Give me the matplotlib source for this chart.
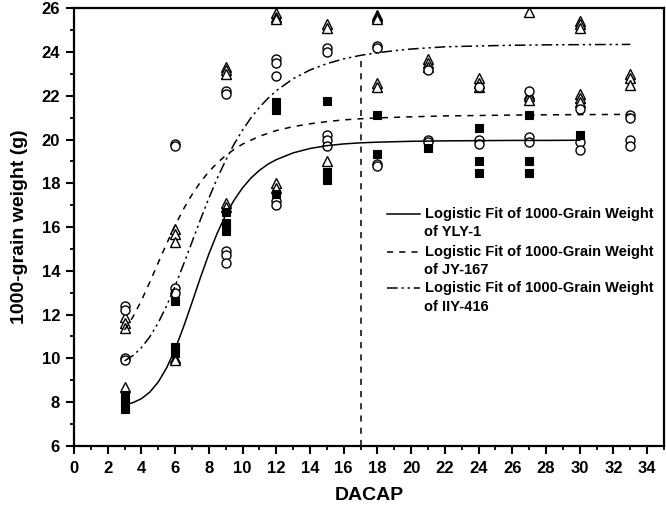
import matplotlib

matplotlib.use("Agg")
import matplotlib.pyplot as plt
from matplotlib import font_manager
from matplotlib.ticker import MultipleLocator

# sampling days (DACAP)
days = [3, 6, 9, 12, 15, 18, 21, 24, 27, 30, 33]

# replicate values read per day, one list per marker type
squares = [
    [8.3, 8.0, 7.7],
    [12.6, 10.5, 10.25],
    [16.7, 16.2, 15.8],
    [21.7, 21.35, 17.5],
    [21.75, 18.5, 18.15],
    [21.1, 19.35],
    [19.6],
    [20.55, 19.0, 18.45],
    [21.1, 19.0, 18.45],
    [20.2],
    [],
]
circles = [
    [12.4, 12.2, 10.0, 9.9],
    [19.8, 19.7, 13.2, 13.0],
    [22.2, 22.1, 14.9, 14.7, 14.35],
    [23.7, 23.5, 22.9, 17.2, 17.0],
    [24.2, 24.0, 20.2, 20.0, 19.7],
    [24.3, 24.2, 18.9, 18.8],
    [23.2, 20.0, 19.9],
    [22.4, 20.0, 19.8],
    [22.2, 20.1, 19.9],
    [21.4, 19.9, 19.5],
    [21.1, 21.0, 20.0, 19.7],
]
triangles = [
    [11.9, 11.6, 11.4, 8.7],
    [15.9, 15.7, 15.3, 10.0, 9.9],
    [23.3, 23.2, 23.0, 17.1, 16.9],
    [25.8, 25.6, 25.5, 18.0, 17.8],
    [25.3, 25.1, 19.0],
    [25.7, 25.6, 25.5, 22.6, 22.4],
    [23.7, 23.5, 23.3],
    [22.8, 22.6, 22.4],
    [25.85, 22.1, 22.0, 21.8],
    [25.4, 25.3, 25.1, 22.1, 21.9, 21.7],
    [23.0, 22.8, 22.5],
]

# fitted logistic curves
yly_x = [3, 3.5, 4, 4.5, 5, 5.5, 6, 6.5, 7, 7.5, 8, 8.5, 9, 9.5, 10, 10.5, 11, 11.5,
         12, 13, 14, 15, 16, 17, 18, 19, 20, 22, 24, 26, 28, 30]
yly_y = [7.87, 7.97, 8.15, 8.45, 8.91, 9.56, 10.41, 11.43, 12.54, 13.68, 14.76, 15.72,
         16.55, 17.23, 17.79, 18.24, 18.59, 18.87, 19.08, 19.39, 19.59, 19.72, 19.80,
         19.85, 19.88, 19.90, 19.92, 19.94, 19.95, 19.96, 19.96, 19.97]
jy_x = [3, 3.5, 4, 4.5, 5, 5.5, 6, 6.5, 7, 7.5, 8, 8.5, 9, 9.5, 10, 11, 12, 13, 14, 15,
        16, 17, 18, 20, 22, 24, 26, 28, 30, 33]
jy_y = [11.29, 11.89, 12.63, 13.48, 14.37, 15.24, 16.07, 16.82, 17.48, 18.05, 18.53,
        18.93, 19.27, 19.55, 19.79, 20.15, 20.41, 20.59, 20.72, 20.82, 20.90, 20.95,
        20.99, 21.04, 21.08, 21.10, 21.12, 21.13, 21.14, 21.15]
iiy_x = [3, 3.5, 4, 4.5, 5, 5.5, 6, 6.5, 7, 7.5, 8, 8.5, 9, 9.5, 10, 10.5, 11, 11.5,
         12, 13, 14, 15, 16, 17, 18, 19, 20, 22, 24, 26, 28, 30, 33]
iiy_y = [9.88, 10.12, 10.48, 10.98, 11.62, 12.40, 13.30, 14.29, 15.31, 16.33, 17.31,
         18.23, 19.05, 19.79, 20.43, 20.99, 21.47, 21.88, 22.23, 22.78, 23.18, 23.47,
         23.69, 23.85, 23.97, 24.06, 24.14, 24.24, 24.28, 24.31, 24.33, 24.34, 24.35]

marker_day = 17
marker_top = 23.85

legend_labels = [
    ("Logistic Fit of 1000-Grain Weight", "of YLY-1"),
    ("Logistic Fit of 1000-Grain Weight", "of JY-167"),
    ("Logistic Fit of 1000-Grain Weight", "of IIY-416"),
]

names = {f.name for f in font_manager.fontManager.ttflist}
NARROW = "Liberation Sans Narrow" if "Liberation Sans Narrow" in names else "Liberation Sans"
plt.rcParams["font.family"] = ["Liberation Sans", "DejaVu Sans"]
plt.rcParams["font.weight"] = "bold"

DASH = (0, (4, 4))
DASHDOTDOT = (0, (7, 2.5, 1.5, 2.5, 1.5, 2.5))


def flat(vals):
    xs = [d for d, ys in zip(days, vals) for _ in ys]
    ys = [v for ys in vals for v in ys]
    return xs, ys


fig = plt.figure(figsize=(6.66, 5.08), dpi=100)
ax = fig.add_axes([0.111, 0.1226, 0.886, 0.861])

sx, sy = flat(squares)
cx, cy = flat(circles)
tx, ty = flat(triangles)
ax.plot(tx, ty, ls="none", marker="^", ms=7.5, mfc="white", mec="black", mew=1.0, zorder=3)
ax.plot(cx, cy, ls="none", marker="o", ms=6.5, mfc="white", mec="black", mew=1.0, zorder=3)
ax.plot(sx, sy, ls="none", marker="s", ms=6.0, mfc="black", mec="black", mew=0.8, zorder=3)

ax.plot(yly_x, yly_y, color="black", lw=1.1, zorder=4)
ax.plot(jy_x, jy_y, color="black", lw=1.1, ls=DASH, zorder=4)
ax.plot(iiy_x, iiy_y, color="black", lw=1.1, ls=DASHDOTDOT, zorder=4)
ax.plot([marker_day, marker_day], [6, marker_top], color="black", lw=1.1, ls=DASH, zorder=4)

# legend drawn by hand so the line sits on the first text row
styles = ["-", DASH, DASHDOTDOT]
rows = [0.5297, 0.4435, 0.3599]
for (l1, l2), st, yr in zip(legend_labels, styles, rows):
    ax.plot([0.5305, 0.5864], [yr, yr], color="black", lw=1.1, ls=st, transform=ax.transAxes)
    ax.text(0.595, yr, l1, transform=ax.transAxes, fontsize=10.5, fontweight="bold", va="center")
    ax.text(0.594, yr - 0.0418, l2, transform=ax.transAxes, fontsize=10.5, fontweight="bold", va="center")

ax.set_xlim(0, 35)
ax.set_ylim(6, 26)
ax.xaxis.set_major_locator(MultipleLocator(2))
ax.xaxis.set_minor_locator(MultipleLocator(1))
ax.yaxis.set_major_locator(MultipleLocator(2))
ax.yaxis.set_minor_locator(MultipleLocator(1))
ax.tick_params(which="major", direction="out", length=6, width=1.5, top=False, right=False)
ax.tick_params(which="minor", direction="out", length=3, width=1.3, top=False, right=False)
ax.tick_params(axis="x", pad=5)
ax.tick_params(axis="y", pad=4)
for lab in ax.get_xticklabels() + ax.get_yticklabels():
    lab.set_fontfamily(NARROW)
    lab.set_fontweight("bold")
    lab.set_fontsize(12)
for s in ax.spines.values():
    s.set_linewidth(1.6)

ax.set_xlabel("DACAP", fontsize=14, fontweight="bold", labelpad=8)
ax.set_ylabel("1000-grain weight (g)", fontsize=14, fontweight="bold", labelpad=10)

fig.savefig("out.png", dpi=100, facecolor="white")
